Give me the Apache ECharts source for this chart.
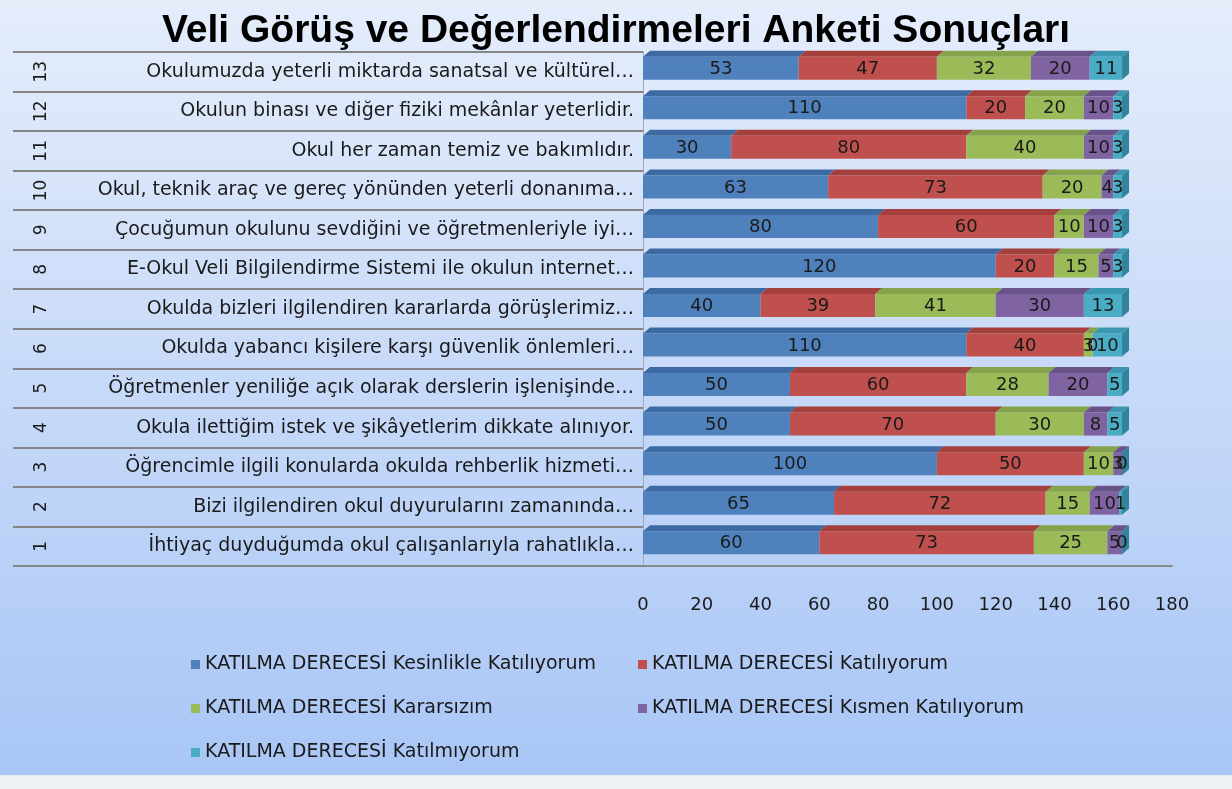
<!DOCTYPE html>
<html>
<head>
<meta charset="utf-8">
<script src="https://cdn.jsdelivr.net/npm/echarts@6/dist/echarts.min.js"></script>
<style>
html, body { margin: 0; padding: 0; }
#chart { width: 1232px; height: 789px; }
</style>
</head>
<body>
<div id="chart"></div>
<script>
var rowNumbers = ['1', '2', '3', '4', '5', '6', '7', '8', '9', '10', '11', '12', '13'];
var categories = [
    'İhtiyaç duyduğumda okul çalışanlarıyla rahatlıkla…',
    'Bizi ilgilendiren okul duyurularını zamanında…',
    'Öğrencimle ilgili konularda okulda rehberlik hizmeti…',
    'Okula ilettiğim istek ve şikâyetlerim dikkate alınıyor.',
    'Öğretmenler yeniliğe açık olarak derslerin işlenişinde…',
    'Okulda yabancı kişilere karşı güvenlik önlemleri…',
    'Okulda bizleri ilgilendiren kararlarda görüşlerimiz…',
    'E-Okul Veli Bilgilendirme Sistemi ile okulun internet…',
    'Çocuğumun okulunu sevdiğini ve öğretmenleriyle iyi…',
    'Okul, teknik araç ve gereç yönünden yeterli donanıma…',
    'Okul her zaman temiz ve bakımlıdır.',
    'Okulun binası ve diğer fiziki mekânlar yeterlidir.',
    'Okulumuzda yeterli miktarda sanatsal ve kültürel…'
];
var seriesNames = [
    'KATILMA DERECESİ Kesinlikle Katılıyorum',
    'KATILMA DERECESİ Katılıyorum',
    'KATILMA DERECESİ Kararsızım',
    'KATILMA DERECESİ Kısmen Katılıyorum',
    'KATILMA DERECESİ Katılmıyorum'
];
var kesinlikle   = [60, 65, 100, 50, 50, 110, 40, 120, 80, 63, 30, 110, 53];
var katiliyorum  = [73, 72, 50, 70, 60, 40, 39, 20, 60, 73, 80, 20, 47];
var kararsiz     = [25, 15, 10, 30, 28, 3, 41, 15, 10, 20, 40, 20, 32];
var kismen       = [5, 10, 3, 8, 20, 0, 30, 5, 10, 4, 10, 10, 20];
var katilmiyorum = [0, 1, 0, 5, 5, 10, 13, 3, 3, 3, 3, 3, 11];
var xTicks = [0, 20, 40, 60, 80, 100, 120, 140, 160, 180];

var seriesData = [kesinlikle, katiliyorum, kararsiz, kismen, katilmiyorum];
var frontColors = ['#4f81bd', '#c0504d', '#9bbb59', '#8064a2', '#4bacc6'];
var topColors = ['#3d6aa3', '#a43f3c', '#84a34a', '#6a5389', '#3b97b0'];
var sideColor = '#31849b';
var font = "'DejaVu Sans', sans-serif";

function renderSegment(s) {
    return function (params, api) {
        var i = api.value(1);
        var start = 0;
        for (var k = 0; k < s; k++) start += seriesData[k][i];
        var end = start + seriesData[s][i];
        var a = api.coord([start, i]);
        var b = api.coord([end, i]);
        var h = 23, t = 6, dx = 7;
        var yc = a[1] - 3.5;
        var y0 = yc - h / 2;
        var kids = [
            {
                type: 'rect',
                shape: { x: a[0], y: y0, width: b[0] - a[0], height: h },
                style: { fill: frontColors[s] }
            },
            {
                type: 'polygon',
                shape: { points: [[a[0], y0], [b[0], y0], [b[0] + dx, y0 - t], [a[0] + dx, y0 - t]] },
                style: { fill: topColors[s] }
            }
        ];
        if (s === 4) {
            kids.push({
                type: 'polygon',
                shape: { points: [[b[0], y0], [b[0] + dx, y0 - t], [b[0] + dx, y0 + h - t], [b[0], y0 + h]] },
                style: { fill: sideColor }
            });
        }
        kids.push({
            type: 'text',
            z2: 100,
            style: {
                x: (a[0] + b[0]) / 2,
                y: yc + 1,
                text: String(seriesData[s][i]),
                align: 'center',
                verticalAlign: 'middle',
                fill: '#1a1a1a',
                font: "18px " + font
            }
        });
        return { type: 'group', children: kids };
    };
}

var series = seriesNames.map(function (name, s) {
    return {
        name: name,
        type: 'custom',
        renderItem: renderSegment(s),
        itemStyle: { color: frontColors[s] },
        encode: { x: 0, y: 1 },
        data: seriesData[s].map(function (v, i) { return [v, i]; })
    };
});

var chart = echarts.init(document.getElementById('chart'));
chart.setOption({
    backgroundColor: new echarts.graphic.LinearGradient(0, 0, 0, 1, [
        { offset: 0, color: '#e5edfb' },
        { offset: 0.982, color: '#a9c6f6' },
        { offset: 0.983, color: '#eef1f6' },
        { offset: 1, color: '#eef1f6' }
    ]),
    animation: false,
    title: {
        text: 'Veli Görüş ve Değerlendirmeleri Anketi Sonuçları',
        left: 'center',
        top: 7,
        textStyle: { fontFamily: "'Liberation Sans', sans-serif", fontWeight: 'bold', fontSize: 39, color: '#000' }
    },
    legend: [
        {
            data: [seriesNames[0], seriesNames[2], seriesNames[4]],
            orient: 'vertical',
            left: 186,
            top: 650,
            itemGap: 25,
            itemWidth: 9,
            itemHeight: 9,
            icon: 'rect',
            textStyle: { fontFamily: font, fontSize: 19, color: '#1a1a1a' }
        },
        {
            data: [seriesNames[1], seriesNames[3]],
            orient: 'vertical',
            left: 633,
            top: 650,
            itemGap: 25,
            itemWidth: 9,
            itemHeight: 9,
            icon: 'rect',
            textStyle: { fontFamily: font, fontSize: 19, color: '#1a1a1a' }
        }
    ],
    grid: { left: 643, right: 60, top: 52, bottom: 223 },
    xAxis: {
        type: 'value',
        min: xTicks[0],
        max: xTicks[xTicks.length - 1],
        interval: 20,
        axisLine: { show: true, lineStyle: { color: '#8c8c8c', width: 2 } },
        axisTick: { show: false },
        splitLine: { show: false },
        axisLabel: { margin: 30, fontSize: 18, color: '#1a1a1a', fontFamily: font }
    },
    yAxis: [
        {
            type: 'category',
            data: categories,
            axisLine: { show: true, lineStyle: { color: '#a0a8b8', width: 1 } },
            axisTick: { show: false },
            axisLabel: { margin: 9, fontSize: 19, color: '#1a1a1a', fontFamily: font }
        },
        {
            type: 'category',
            data: categories,
            position: 'left',
            axisLine: { show: false },
            axisTick: { show: true, length: 630, lineStyle: { color: '#858585', width: 2 } },
            axisLabel: { show: false }
        },
        {
            type: 'category',
            data: rowNumbers,
            position: 'left',
            axisLine: { show: false },
            axisTick: { show: false },
            axisLabel: { margin: 593, rotate: 90, fontSize: 17, color: '#1a1a1a', fontFamily: font }
        }
    ],
    series: series
});
</script>
</body>
</html>
